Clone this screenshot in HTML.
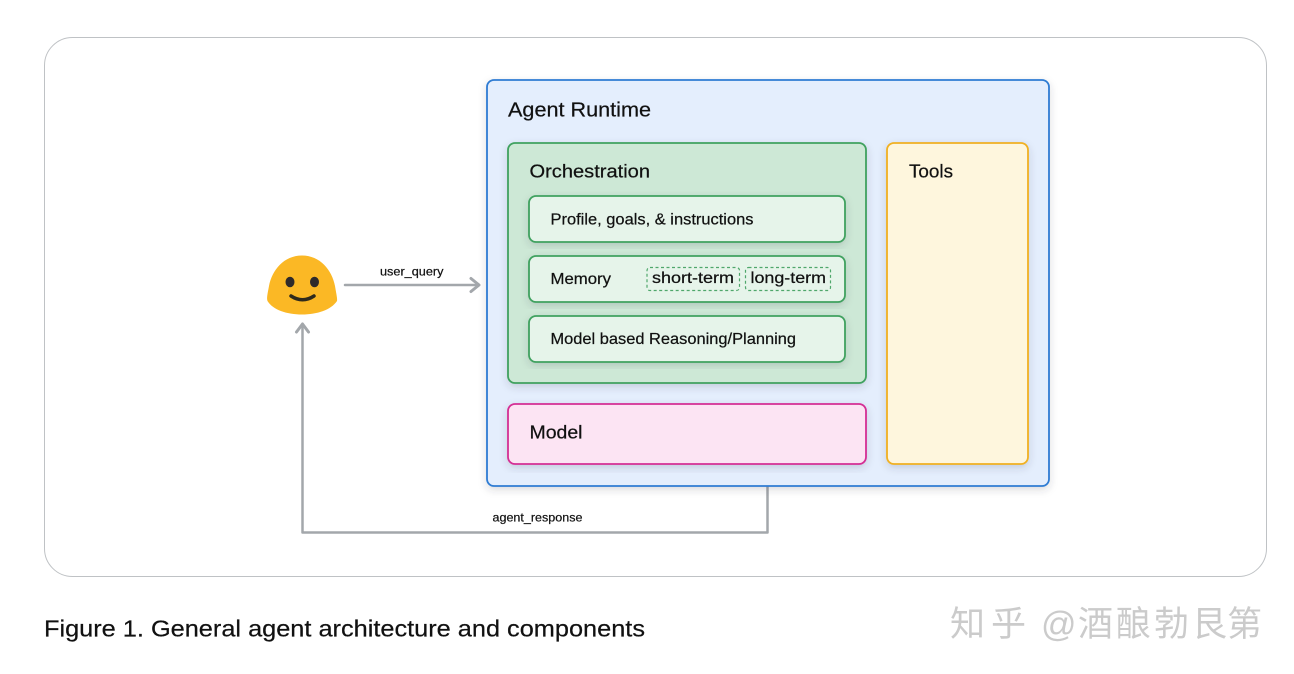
<!DOCTYPE html>
<html><head><meta charset="utf-8">
<style>
html,body{margin:0;padding:0;background:#fff;width:1294px;height:674px;overflow:hidden}
svg{display:block}
text{font-family:"Liberation Sans","Noto Sans CJK SC",sans-serif;fill:#111;stroke:#111;stroke-width:.22px}
</style></head>
<body>
<svg width="1294" height="674" viewBox="0 0 1294 674" xmlns="http://www.w3.org/2000/svg">
<defs>
<filter id="s" x="-10%" y="-10%" width="120%" height="125%"><feDropShadow dx="0" dy="3" stdDeviation="4" flood-color="#3c4043" flood-opacity=".18"/></filter>
<filter id="b"><feGaussianBlur stdDeviation=".3"/></filter>
</defs>
<rect x="44.5" y="37.5" width="1222" height="539" rx="28" fill="#fff" stroke="#bfc2c5" stroke-width="1"/>

<!-- connectors -->
<g fill="none" stroke="#a3a7ab" stroke-linecap="round" stroke-linejoin="round">
<path d="M345 285H478" stroke-width="2.500"/>
<path d="M471 278.500L479 285L471 291.500" stroke-width="3"/>
<path d="M767.500 486V532.500H302.500V324" stroke-width="2.500"/>
<path d="M296.500 332L302.500 324L308.500 332" stroke-width="3"/>
</g>

<!-- runtime -->
<rect x="487" y="80" width="562" height="406" rx="7" fill="#e4eefd" stroke="#2f7bd3" stroke-width="1.800" filter="url(#s)"/>
<rect x="508" y="143" width="358" height="240" rx="7" fill="#cde8d6" stroke="#3fa15f" stroke-width="1.800" filter="url(#s)"/>
<rect x="529" y="196" width="316" height="46" rx="7" fill="#e6f4ea" stroke="#3fa15f" stroke-width="1.800" filter="url(#s)"/>
<rect x="529" y="256" width="316" height="46" rx="7" fill="#e6f4ea" stroke="#3fa15f" stroke-width="1.800" filter="url(#s)"/>
<rect x="529" y="316" width="316" height="46" rx="7" fill="#e6f4ea" stroke="#3fa15f" stroke-width="1.800" filter="url(#s)"/>
<rect x="647" y="267.500" width="92.500" height="23" rx="3" fill="#e6f4ea" stroke="#4fa76b" stroke-width="1.200" stroke-dasharray="3 2.500"/>
<rect x="745.500" y="267.500" width="85" height="23" rx="3" fill="#e6f4ea" stroke="#4fa76b" stroke-width="1.200" stroke-dasharray="3 2.500"/>
<rect x="508" y="404" width="358" height="60" rx="7" fill="#fce4f3" stroke="#d42e94" stroke-width="1.800" filter="url(#s)"/>
<rect x="887" y="143" width="141" height="321" rx="7" fill="#fef6dd" stroke="#f0b020" stroke-width="1.800" filter="url(#s)"/>

<!-- smiley -->
<path d="M302 255.500C320 255.500 332 270 335 286C336.500 295 337.500 299 337 301C331 310 317 314.500 302 314.500C287 314.500 273 310 267.500 301C266.500 298 267.500 294 269 286C272 270 284 255.500 302 255.500Z" fill="#fbb825"/>
<ellipse cx="290" cy="282" rx="4.500" ry="5.300" fill="#2f2a2a"/>
<ellipse cx="314.500" cy="282" rx="4.500" ry="5.300" fill="#2f2a2a"/>
<path d="M291 296Q302.500 303.500 314 296" fill="none" stroke="#2f2a1c" stroke-width="3.500" stroke-linecap="round"/>

<!-- labels -->
<text x="508" y="116.500" font-size="20.500" textLength="143" lengthAdjust="spacingAndGlyphs">Agent Runtime</text>
<text x="529.500" y="177.500" font-size="18" textLength="120.500" lengthAdjust="spacingAndGlyphs">Orchestration</text>
<text x="909" y="177.500" font-size="18" textLength="44" lengthAdjust="spacingAndGlyphs">Tools</text>
<text x="550.500" y="224.500" font-size="15.500" textLength="203" lengthAdjust="spacingAndGlyphs">Profile, goals, &amp; instructions</text>
<text x="550.500" y="284" font-size="15.500" textLength="60.500" lengthAdjust="spacingAndGlyphs">Memory</text>
<text x="652" y="283" font-size="15.500" textLength="82" lengthAdjust="spacingAndGlyphs">short-term</text>
<text x="750.500" y="283" font-size="15.500" textLength="75.500" lengthAdjust="spacingAndGlyphs">long-term</text>
<text x="550.500" y="344" font-size="15.500" textLength="245.500" lengthAdjust="spacingAndGlyphs">Model based Reasoning/Planning</text>
<text x="529.500" y="438.500" font-size="18" textLength="53" lengthAdjust="spacingAndGlyphs">Model</text>
<text x="380" y="275.500" font-size="12" textLength="63.500" lengthAdjust="spacingAndGlyphs">user_query</text>
<text x="492.500" y="521.500" font-size="12" textLength="90" lengthAdjust="spacingAndGlyphs">agent_response</text>
<text x="44" y="636.500" font-size="23" textLength="601" lengthAdjust="spacingAndGlyphs">Figure 1. General agent architecture and components</text>

<!-- watermark -->
<g filter="url(#b)">
<text x="950 991 1041 1078 1116 1154 1192 1227" y="636" font-size="35" style="fill:#cbcbcb;stroke:none">知乎@酒酿勃艮第</text>
</g>
</svg>
</body></html>
